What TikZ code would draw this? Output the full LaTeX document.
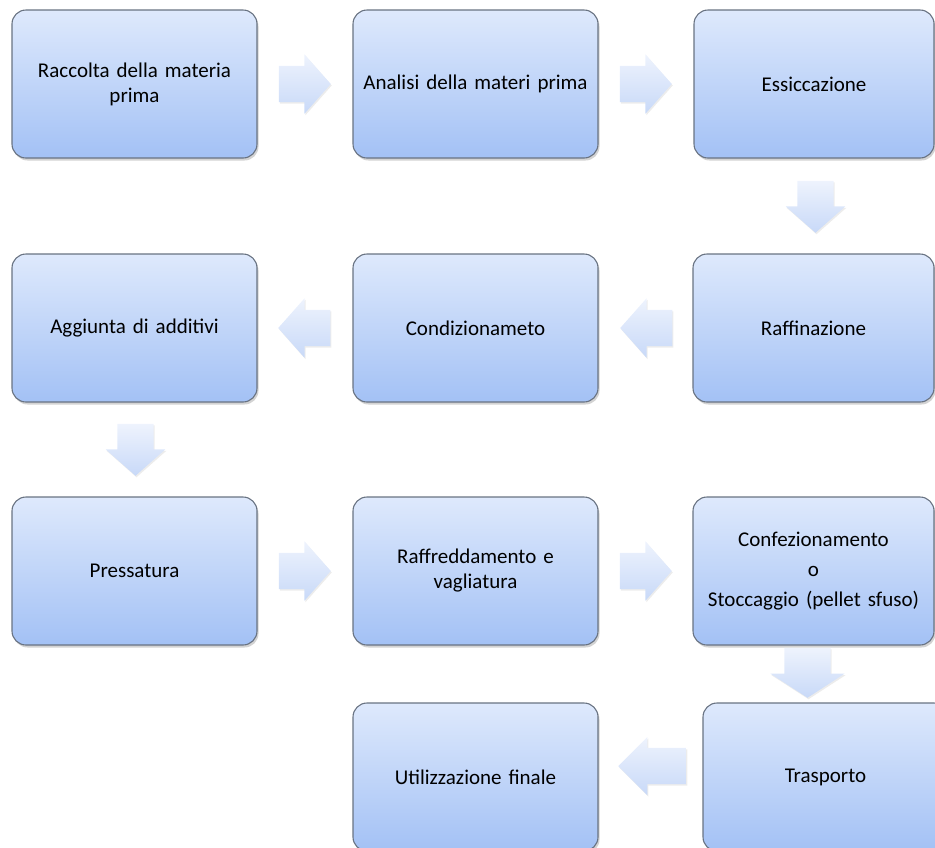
\documentclass[tikz,border=0pt]{standalone}
\usepackage{fontspec}
\setmainfont{Carlito}[WordSpace=0.9]
\usepackage{tikz}
\usetikzlibrary{positioning,shapes.arrows,shadows,calc}

\definecolor{boxtop}{RGB}{222,233,252}
\definecolor{boxbot}{RGB}{163,193,245}
\definecolor{arrtop}{RGB}{238,243,253}
\definecolor{arrbot}{RGB}{200,217,248}
\definecolor{boxline}{RGB}{105,115,130}

\begin{document}
\begin{tikzpicture} [x=1pt,y=-1pt,every node/.style={font=\fontsize{21}{25}\selectfont},
  box/.style={rectangle,rounded corners=14pt,draw=boxline,line width=1.1pt,top color=boxtop,bottom color=boxbot,minimum width=245pt,minimum height=148pt,align=center,text width=232pt,drop shadow={shadow xshift=1.5pt,shadow yshift=-2.5pt,opacity=.35}},
  flow/.style={single arrow,single arrow head extend=11.5pt,single arrow tip angle=97,minimum height=52pt,inner xsep=0pt,inner ysep=18pt,top color=arrtop,bottom color=arrbot,drop shadow={shadow xshift=1pt,shadow yshift=-1.5pt,opacity=.15}},
  down/.style={flow,shape border rotate=270,inner xsep=18pt,inner ysep=0pt},
  back/.style={flow,shape border rotate=180}]
\useasboundingbox (0,0) rectangle (935,847);
\clip (0,0) rectangle (935,847);
\node[box] (raccolta) at (134.5,84) {Raccolta della materia\\prima};
\node[box] (analisi) at (475.5,84) {Analisi della materi prima};
\node[box,minimum width=240pt] (essic) at (814,84) {Essiccazione};
\node[box] (aggiunta) at (134.5,328) {Aggiunta di additivi};
\node[box] (condiz) at (475.5,328) {Condizionameto};
\node[box,minimum width=241pt] (raffin) at (813.5,328) {Raffinazione};
\node[box] (press) at (134.5,571) {Pressatura};
\node[box] (raffr) at (475.5,571) {Raffreddamento e\\vagliatura};
\node[box,minimum width=241pt] (confez) at (813.5,571) {Confezionamento\\[5pt]o\\[5pt]Stoccaggio (pellet sfuso)};
\node[box] (util) at (475.5,777) {Utilizzazione finale};
\node[box] (trasp) at (825.5,777) {Trasporto};

% block arrows between the steps
\node[flow,right=21pt of raccolta,anchor=tail] (f1) {};
\node[flow,right=21pt of analisi,anchor=tail] (f2) {};
\node[down,below=22pt of essic,anchor=tail,xshift=1.5pt] (f3) {};
\node[back,left=20pt of raffin,anchor=tail] (f4) {};
\node[back,left=22pt of condiz,anchor=tail] (f5) {};
\node[down,below=21pt of aggiunta,anchor=tail,xshift=1pt] (f6) {};
\node[flow,right=21pt of press,anchor=tail] (f7) {};
\node[flow,right=21pt of raffr,anchor=tail] (f8) {};
\node[down,below=2pt of confez,anchor=tail,xshift=-6pt,inner xsep=23pt,minimum height=50pt,single arrow head extend=14pt,single arrow tip angle=114] (f9) {};
\node[back,left=16pt of trasp,anchor=tail,yshift=11pt,minimum height=68pt,single arrow head extend=11pt,single arrow tip angle=90] (f10) {};
\end{tikzpicture}
\end{document}
